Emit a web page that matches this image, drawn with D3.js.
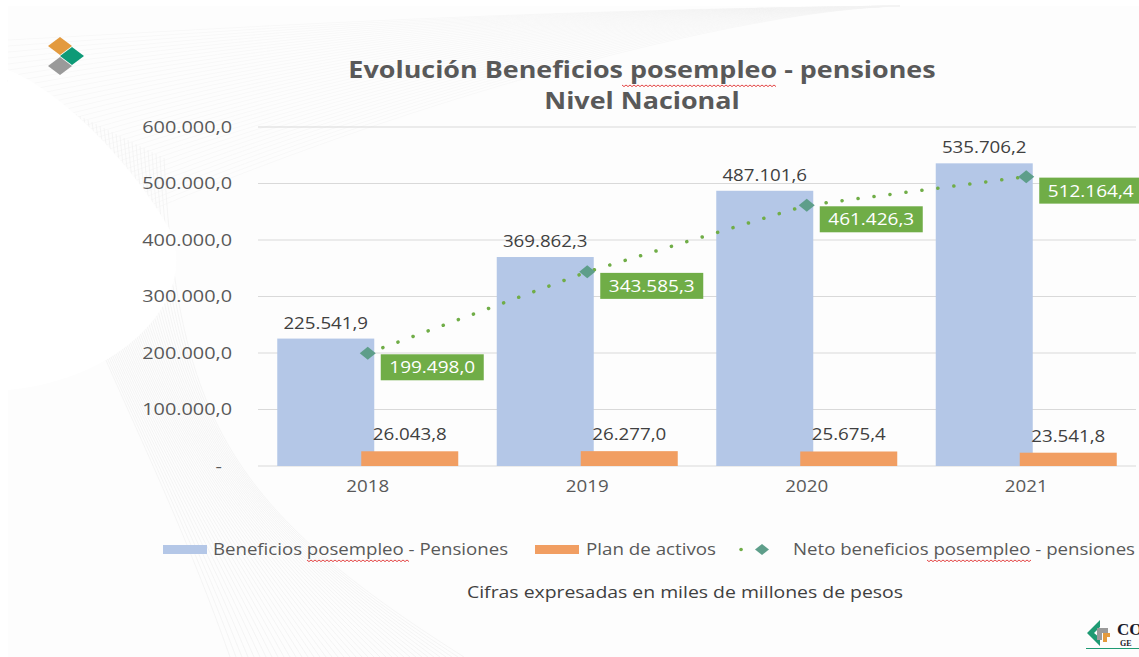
<!DOCTYPE html>
<html><head><meta charset="utf-8">
<script src="https://cdn.jsdelivr.net/npm/d3@7"></script>
<style>
html,body{margin:0;padding:0;background:#fff;}
svg{display:block;font-family:"Open Sans","Noto Sans",sans-serif;}
</style></head>
<body>
<svg id="chart" width="1139" height="657"></svg>
<script>
const categories = ["2018","2019","2020","2021"];
const beneficios = [225541.9, 369862.3, 487101.6, 535706.2];
const planActivos = [26043.8, 26277.0, 25675.4, 23541.8];
const neto = [199498.0, 343585.3, 461426.3, 512164.4];
const yTicks = [0, 100000, 200000, 300000, 400000, 500000, 600000];
const titleLines = ["Evolución Beneficios posempleo - pensiones", "Nivel Nacional"];
const legendLabels = ["Beneficios posempleo - Pensiones", "Plan de activos", "Neto beneficios posempleo - pensiones"];
const footnote = "Cifras expresadas en miles de millones de pesos";

const W = 1139, H = 657;
const svg = d3.select("#chart");
const loc = d3.formatLocale({decimal: ",", thousands: ".", grouping: [3], currency: ["$", ""]});
const fmt = v => v === 0 ? "-" : loc.format(",.1f")(v);

// widen text glyphs horizontally (reference text is wide)
function stretch(sel, f) {
  sel.each(function () {
    const l = this.getComputedTextLength();
    d3.select(this).attr("textLength", l * f).attr("lengthAdjust", "spacingAndGlyphs");
  });
  return sel;
}

// background decoration (faint curved lines)
const bg = svg.append("g");
bg.append("rect").attr("x", 8).attr("y", 6).attr("width", W - 8).attr("height", H - 6).attr("fill", "#fdfdfd");
for (let i = 0; i < 40; i++) {
  bg.append("path")
    .attr("d", `M${8 + i * 4},${80 + i * 2} C ${60 + i * 3},${300 + i * 3} ${150 + i * 2},${430 + i * 2} ${230 + i * 6},${657}`)
    .attr("fill", "none").attr("stroke", "#efefef").attr("stroke-width", 0.6);
  bg.append("path")
    .attr("d", `M${8},${40 + i * 6} C ${200 + i * 4},${30 + i * 2} ${500 + i * 6},${10} ${900},${6}`)
    .attr("fill", "none").attr("stroke", "#f3f3f3").attr("stroke-width", 0.5);
}
bg.append("path")
  .attr("d", "M8,70 C 60,90 130,160 170,230 C 200,300 120,380 8,390 Z")
  .attr("fill", "#ffffff");

// logo top-left
const logo = svg.append("g");
const dia = (cx, cy, c) => logo.append("path")
  .attr("d", `M${cx - 12},${cy} L${cx},${cy - 9} L${cx + 12},${cy} L${cx},${cy + 9} Z`).attr("fill", c);
dia(60, 46, "#E39A3E");
dia(72, 56, "#0E9A77");
dia(60, 66, "#9A9A9A");

// scales
const x0 = d3.scaleBand().domain(categories).range([258, 1136]);
const y = d3.scaleLinear().domain([0, 600000]).range([466, 127]);
const barW = 97, overlap = 13;

// gridlines
svg.append("g").selectAll("line").data(yTicks).join("line")
  .attr("x1", 258).attr("x2", 1136)
  .attr("y1", d => y(d)).attr("y2", d => y(d))
  .attr("stroke", "#d9d9d9").attr("stroke-width", 1);

// y axis labels
const yAxis = d3.axisLeft(y).tickValues(yTicks).tickFormat(fmt).tickSize(0).tickPadding(0);
const gy = svg.append("g").attr("transform", "translate(232,0)").call(yAxis);
gy.select(".domain").remove();
gy.selectAll("text").attr("font-size", 16).attr("fill", "#595959")
  .attr("font-family", "'Open Sans',sans-serif");
gy.selectAll("text").filter(d => d === 0).attr("dx", -10);
stretch(gy.selectAll("text"), 1.24);

// x axis labels
const xAxis = d3.axisBottom(x0).tickSize(0).tickPadding(0);
const gx = svg.append("g").attr("transform", "translate(0,481)").call(xAxis);
gx.select(".domain").remove();
gx.selectAll("text").attr("font-size", 16).attr("fill", "#595959").attr("font-family", "'Open Sans',sans-serif");
stretch(gx.selectAll("text"), 1.17);

const cx = c => x0(c) + x0.bandwidth() / 2;
const blueX = c => cx(c) - barW + overlap / 2;
const orangeX = c => cx(c) - overlap / 2;

// blue bars
svg.append("g").selectAll("rect").data(categories).join("rect")
  .attr("x", c => blueX(c)).attr("width", barW)
  .attr("y", (c, i) => y(beneficios[i])).attr("height", (c, i) => y(0) - y(beneficios[i]))
  .attr("fill", "#B4C7E7");
// orange bars
svg.append("g").selectAll("rect").data(categories).join("rect")
  .attr("x", c => orangeX(c)).attr("width", barW)
  .attr("y", (c, i) => y(planActivos[i])).attr("height", (c, i) => y(0) - y(planActivos[i]))
  .attr("fill", "#F19E62");

// blue labels
stretch(svg.append("g").selectAll("text").data(categories).join("text")
  .attr("x", c => blueX(c) + barW / 2).attr("y", (c, i) => y(beneficios[i]) - 10)
  .attr("text-anchor", "middle").attr("font-size", 16).attr("fill", "#404040")
  .text((c, i) => fmt(beneficios[i])), 1.17);
// orange labels
stretch(svg.append("g").selectAll("text").data(categories).join("text")
  .attr("x", c => orangeX(c) + barW / 2).attr("y", (c, i) => y(planActivos[i]) - 11)
  .attr("text-anchor", "middle").attr("font-size", 16).attr("fill", "#404040")
  .text((c, i) => fmt(planActivos[i])), 1.17);

// dotted line
const line = d3.line().x((d, i) => cx(categories[i])).y(d => y(d));
svg.append("path").datum(neto).attr("d", line)
  .attr("fill", "none").attr("stroke", "#70AD47").attr("stroke-width", 3.5)
  .attr("stroke-linecap", "round").attr("stroke-dasharray", "0.1 16");
// diamonds
svg.append("g").selectAll("path").data(neto).join("path")
  .attr("transform", (d, i) => `translate(${cx(categories[i])},${y(d)})`)
  .attr("d", "M-8,0 L0,-6.5 L8,0 L0,6.5 Z").attr("fill", "#5E9E8A");
// green labels
const gl = svg.append("g").selectAll("g").data(neto).join("g")
  .attr("transform", (d, i) => `translate(${cx(categories[i]) + 13},${y(d) + 1})`);
gl.append("rect").attr("width", 103).attr("height", 26).attr("fill", "#70AD47");
stretch(gl.append("text").attr("x", 51.5).attr("y", 19).attr("text-anchor", "middle")
  .attr("font-size", 16.5).attr("fill", "#fff").text(d => fmt(d)), 1.15);

// title
stretch(svg.append("g").selectAll("text").data(titleLines).join("text")
  .attr("x", 642).attr("y", (d, i) => 78 + i * 31)
  .attr("text-anchor", "middle").attr("font-size", 23).attr("font-weight", "bold")
  .attr("fill", "#595959").text(d => d), 1.17);

// squiggle helper
function squiggle(x1, x2, yy) {
  let d = `M${x1},${yy}`;
  for (let xx = x1, k = 0; xx < x2; xx += 2, k++) d += ` L${xx + 2},${yy + (k % 2 ? 0 : 1.6)}`;
  svg.append("path").attr("d", d).attr("fill", "none").attr("stroke", "#e03030").attr("stroke-width", 0.9);
}
squiggle(622, 776, 85);

// legend
const lg = svg.append("g");
lg.append("rect").attr("x", 163).attr("y", 545).attr("width", 44).attr("height", 9).attr("fill", "#B4C7E7");
lg.append("rect").attr("x", 535).attr("y", 545).attr("width", 44).attr("height", 9).attr("fill", "#F19E62");
lg.append("path").attr("d", "M741,549.5 L778,549.5").attr("stroke", "#70AD47").attr("stroke-width", 3.5)
  .attr("stroke-linecap", "round").attr("stroke-dasharray", "0.1 37");
lg.append("path").attr("d", "M755,549.5 L762,544 L769,549.5 L762,555 Z").attr("fill", "#5E9E8A");
const legX = [213, 586, 793], legLen = [295, 130, 342];
lg.selectAll("text").data(legendLabels).join("text")
  .attr("x", (d, i) => legX[i]).attr("y", 555).attr("font-size", 16).attr("fill", "#595959")
  .attr("textLength", (d, i) => legLen[i]).attr("lengthAdjust", "spacingAndGlyphs").text(d => d);
squiggle(307, 408, 560);
squiggle(927, 1031, 560);

// footnote
svg.append("text").attr("x", 685).attr("y", 598).attr("text-anchor", "middle")
  .attr("font-size", 16).attr("fill", "#404040")
  .attr("textLength", 436).attr("lengthAdjust", "spacingAndGlyphs").text(footnote);

// bottom-right logo
const br = svg.append("g");
br.append("path").attr("d", "M1100,620 L1087,633 L1100,646 L1100,638 L1094,633 L1100,627 Z").attr("fill", "#1E9A73");
br.append("path").attr("d", "M1097,628 L1108,628 L1108,633 L1102,633 L1102,640 L1097,640 Z").attr("fill", "#9a9a9a");
br.append("path").attr("d", "M1103,633 L1110,633 L1110,637 L1107,637 L1107,642 L1103,642 Z").attr("fill", "#E39A3E");
br.append("text").attr("x", 1117).attr("y", 635).attr("font-size", 17).attr("font-weight", "bold")
  .attr("font-family", "'Liberation Serif',serif").attr("fill", "#1a1a2a").text("CO");
br.append("text").attr("x", 1120).attr("y", 646).attr("font-size", 8).attr("font-weight", "bold")
  .attr("font-family", "'Liberation Serif',serif").attr("fill", "#1a1a2a").text("GE");
br.append("line").attr("x1", 1086).attr("x2", 1139).attr("y1", 648.5).attr("y2", 648.5).attr("stroke", "#1E9A73").attr("stroke-width", 1);
</script>
</body></html>
